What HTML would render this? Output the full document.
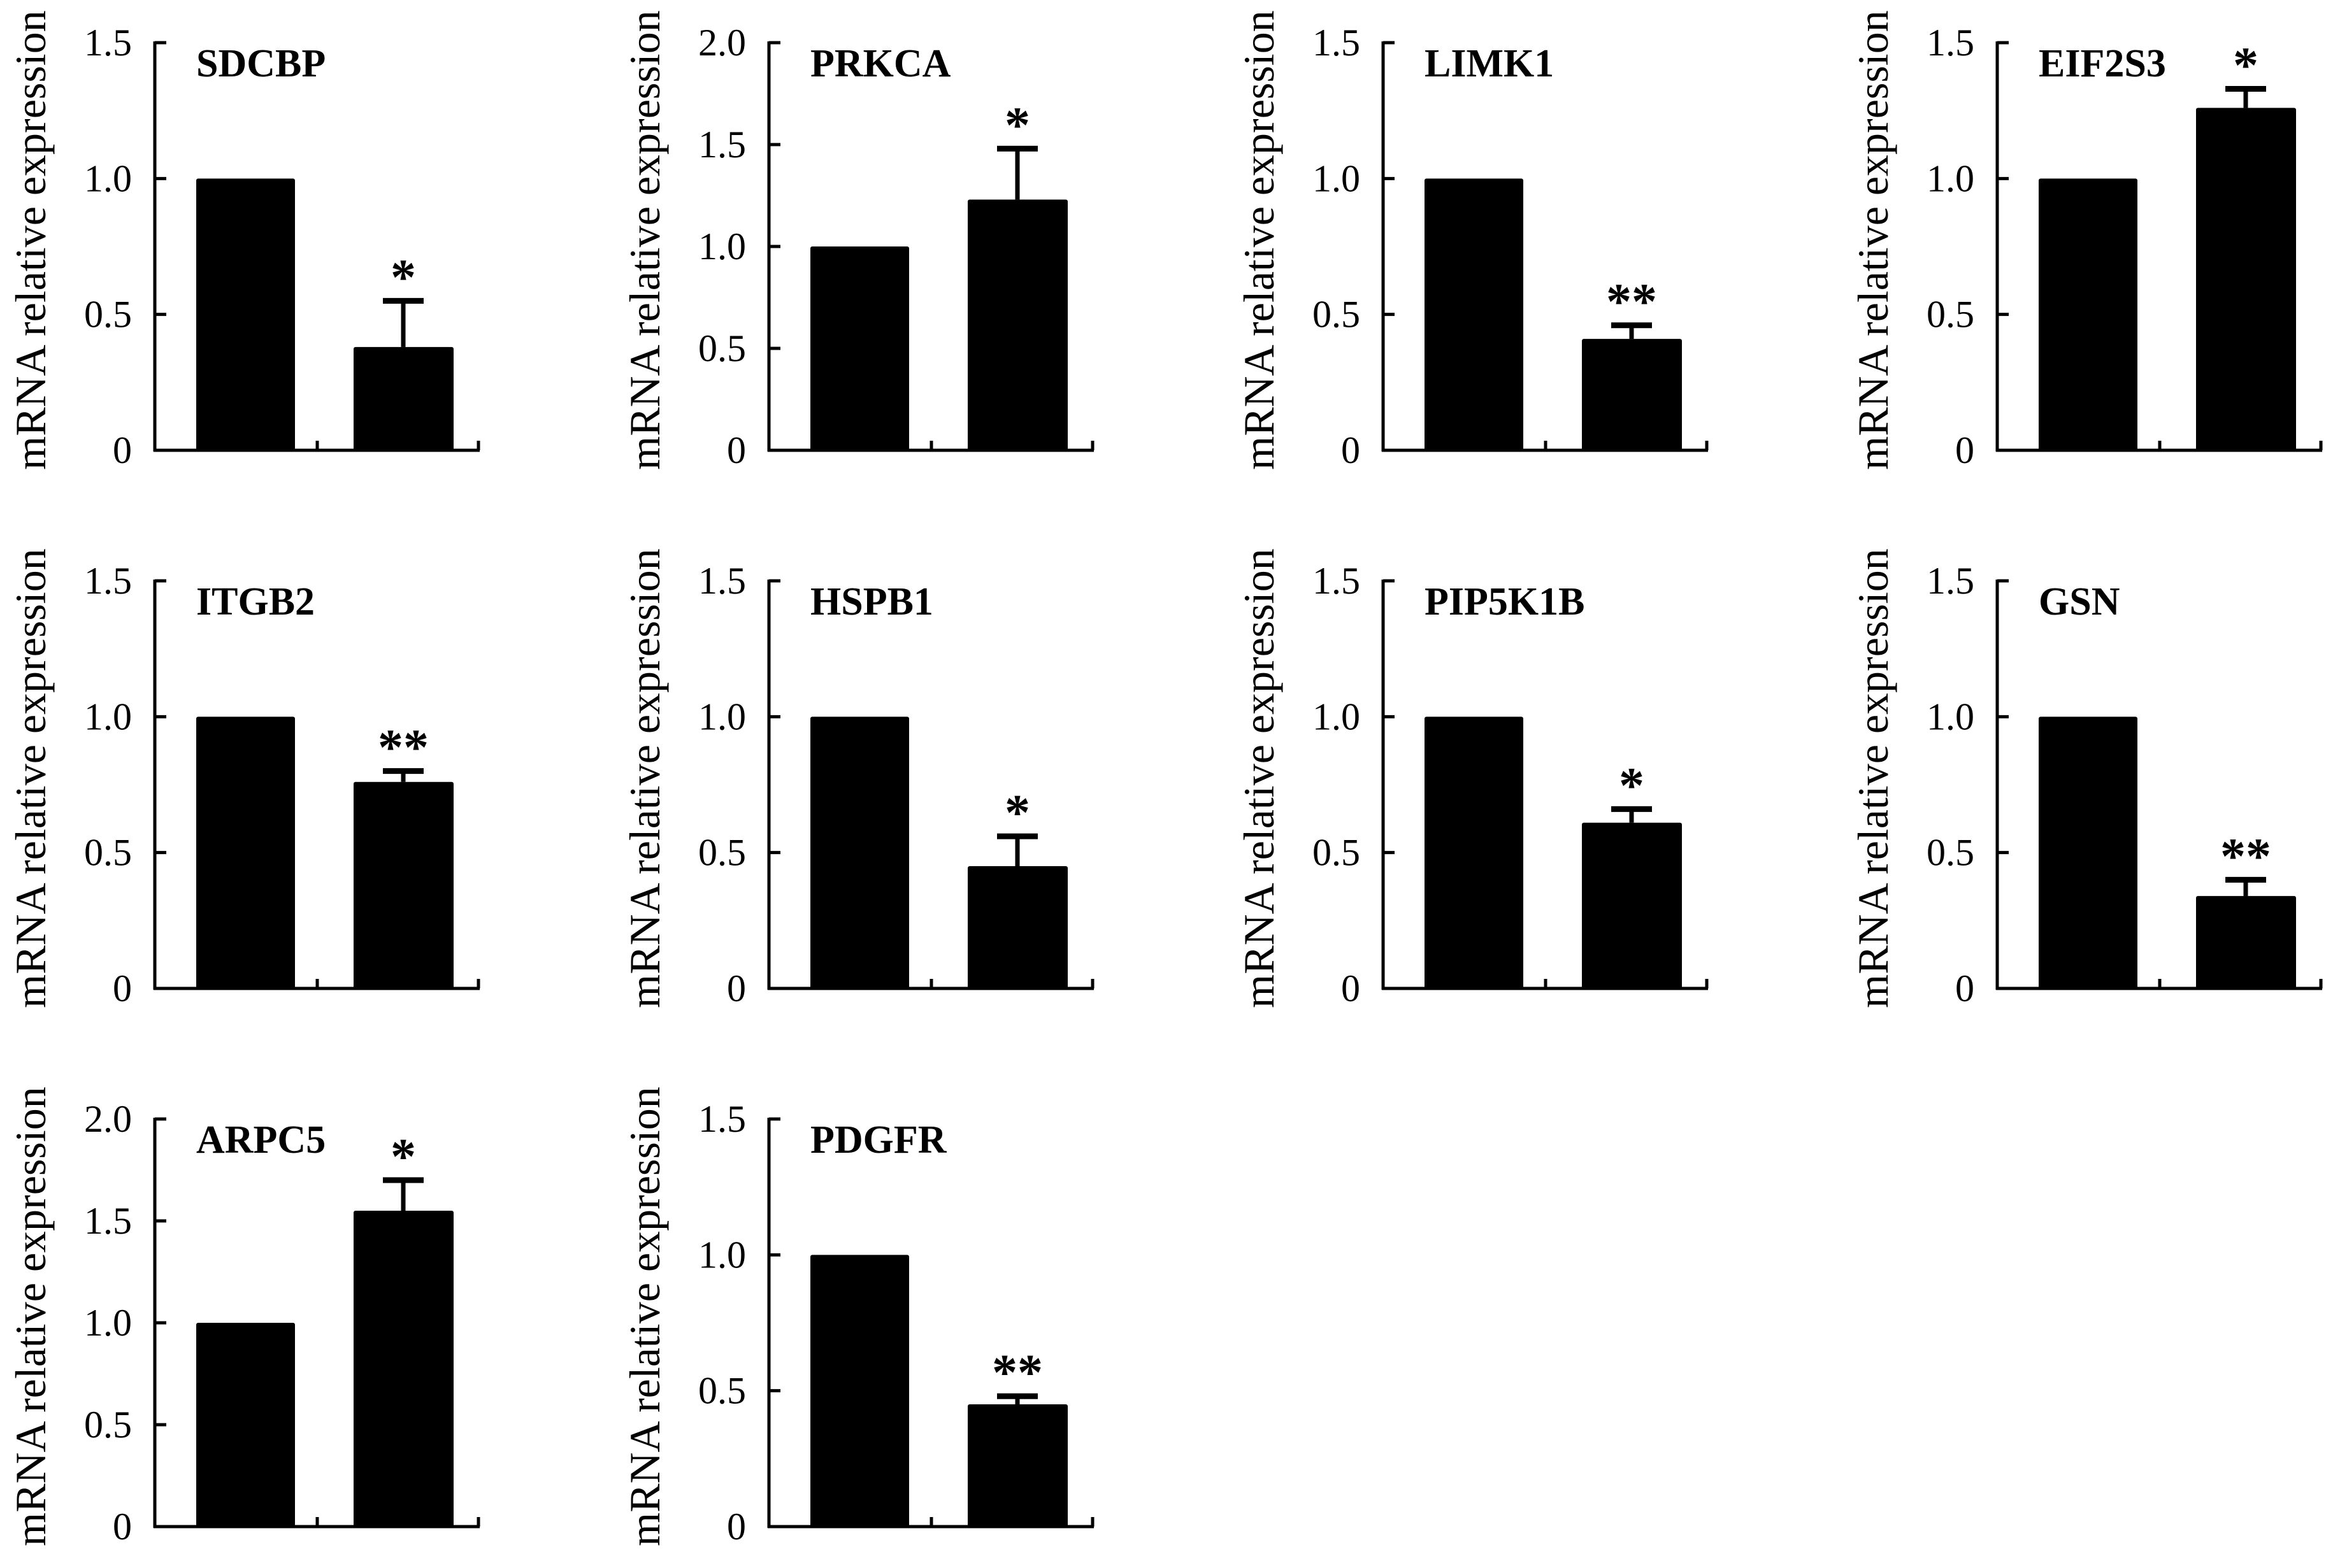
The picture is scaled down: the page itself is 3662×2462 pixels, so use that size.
<!DOCTYPE html>
<html><head><meta charset="utf-8"><style>
html,body{margin:0;padding:0;background:#fff;}
svg{display:block;}
text{font-family:"Liberation Serif",serif;fill:#000;}
</style></head><body>
<svg id="fig" width="3662" height="2462" viewBox="0 0 3662 2462" xmlns="http://www.w3.org/2000/svg"></svg>
<script>
const genes = ["SDCBP","PRKCA","LIMK1","EIF2S3","ITGB2","HSPB1","PIP5K1B","GSN","ARPC5","PDGFR"];
const controlValues = [1,1,1,1,1,1,1,1,1,1];
const treatedValues = [0.38,1.23,0.41,1.26,0.76,0.45,0.61,0.34,1.55,0.45];
const treatedErrors = [0.17,0.25,0.05,0.07,0.04,0.11,0.05,0.06,0.15,0.03];
const significance = ["*","*","**","*","**","*","*","**","*","**"];
const axisMax = [1.5,2.0,1.5,1.5,1.5,1.5,1.5,1.5,2.0,1.5];
const ticks15 = ["0","0.5","1.0","1.5"];
const ticks20 = ["0","0.5","1.0","1.5","2.0"];
const yTitle = "mRNA relative expression";

const NS="http://www.w3.org/2000/svg";
const svg=document.getElementById('fig');
function mk(tag,attrs,parent){const e=document.createElementNS(NS,tag);for(const k in attrs)e.setAttribute(k,attrs[k]);(parent||svg).appendChild(e);return e;}

const axH=640, axW=510;
genes.forEach((g,i)=>{
  const col=i%4,row=Math.floor(i/4);
  const ax=243+col*964, zero=707+row*845, top=zero-axH;
  const grp=mk('g',{});
  
  
  const y=v=>zero-v/axisMax[i]*axH;
  const yl=mk('line',{x1:ax,y1:top-2,x2:ax,y2:zero+2,stroke:'#000','stroke-width':5},grp);
  
  
  const xl=mk('line',{x1:ax-2,y1:zero,x2:ax+axW,y2:zero,stroke:'#000','stroke-width':5},grp);
  
  
  [ax+255,ax+axW-2].forEach(tx=>{mk('line',{x1:tx,y1:zero,x2:tx,y2:zero-15,stroke:'#000','stroke-width':5},grp);});
  const labels=axisMax[i]===2?ticks20:ticks15;
  labels.forEach((lab,k)=>{
    const v=k*0.5, ty=y(v);
    if(k>0) mk('line',{x1:ax,y1:ty,x2:ax+18,y2:ty,stroke:'#000','stroke-width':5},grp);
    const t=mk('text',{x:ax-36,y:ty+20,'text-anchor':'end','font-size':60},grp);
    t.textContent=lab;
    
    
  });
  const yt=mk('text',{x:0,y:0,'text-anchor':'middle','font-size':68,transform:`translate(${ax-172},${top+310}) rotate(-90)`},grp);
  yt.textContent=yTitle;
  
  
  const tt=mk('text',{x:ax+65,y:top+53,'font-size':62,'font-weight':'bold'},grp);
  tt.textContent=g;
  
  
  const b1=mk('rect',{x:ax+65,y:y(controlValues[i]),width:155,height:zero-y(controlValues[i]),fill:'#000',rx:3},grp);
  
  
  const b2=mk('rect',{x:ax+312,y:y(treatedValues[i]),width:157,height:zero-y(treatedValues[i]),fill:'#000',rx:3},grp);
  
  
  const cx=ax+390, et=y(treatedValues[i]+treatedErrors[i]);
  const e1=mk('line',{x1:cx,y1:y(treatedValues[i]),x2:cx,y2:et,stroke:'#000','stroke-width':7},grp);
  
  
  mk('line',{x1:cx-32,y1:et,x2:cx+32,y2:et,stroke:'#000','stroke-width':9},grp);
  const st=mk('text',{x:cx,y:et-10,'text-anchor':'middle','font-size':80,'font-weight':'bold'},grp);
  st.textContent=significance[i];
  
  
});
</script>
</body></html>
